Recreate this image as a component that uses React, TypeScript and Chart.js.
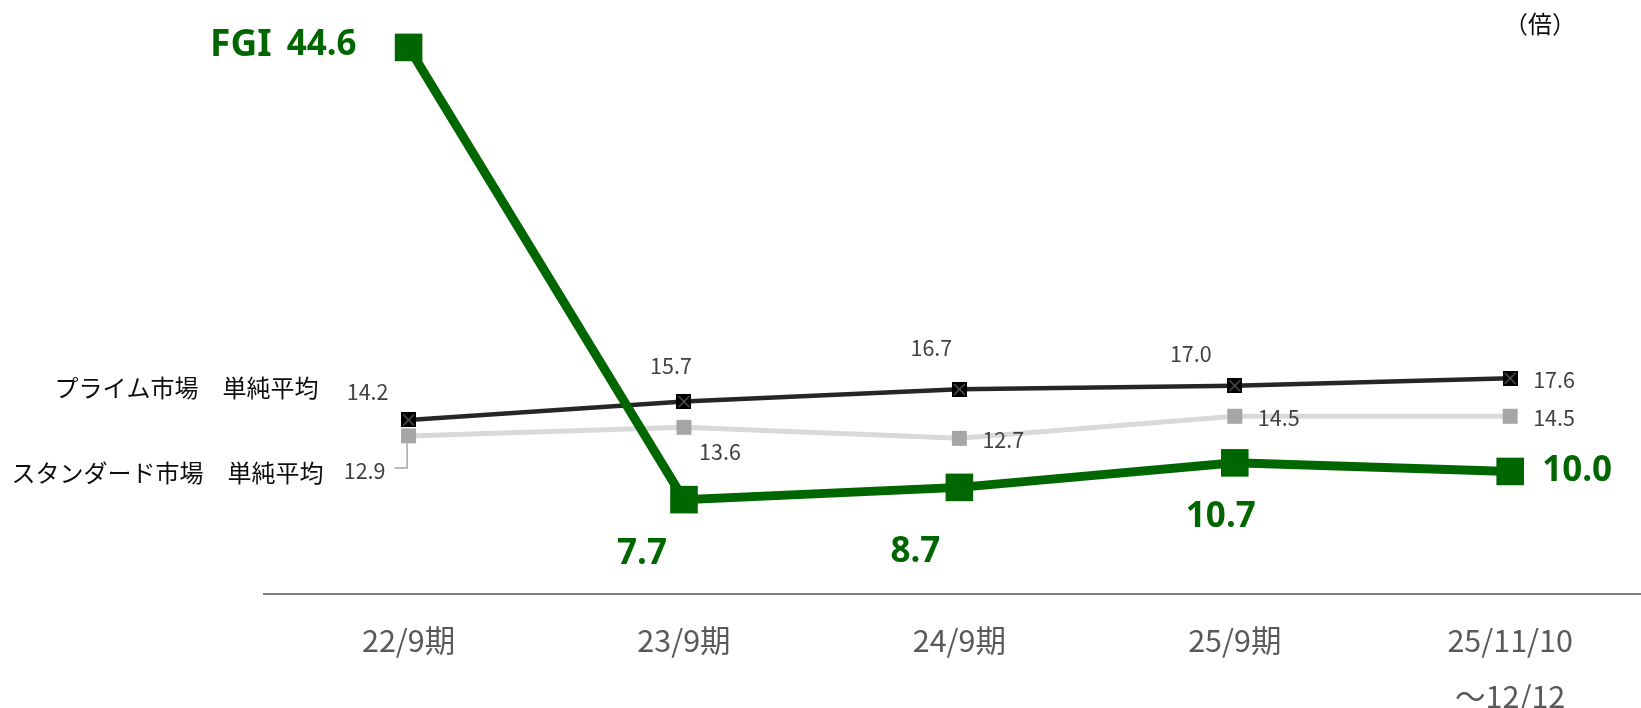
import { useEffect, useRef } from "react";
import { Chart, registerables } from "chart.js";

Chart.register(...registerables);

// Periods along the x axis (the last one spans two lines)
const categories: (string | string[])[] = ["22/9期", "23/9期", "24/9期", "25/9期", ["25/11/10", "～12/12"]];

// PER (倍) per period
const fgiValues = [44.6, 7.7, 8.7, 10.7, 10.0];
const primeValues = [14.2, 15.7, 16.7, 17.0, 17.6];
const standardValues = [12.9, 13.6, 12.7, 14.5, 14.5];

const fgiName = "FGI";
const primeName = "プライム市場　単純平均";
const standardName = "スタンダード市場　単純平均";
const unitLabel = "（倍）";

const GREEN = "#006600";
const DARK = "#262626";
const LIGHT = "#d9d9d9";
const MARKER_GRAY = "#a6a6a6";
const JP_FONT = '"Noto Sans CJK JP", "Noto Sans", sans-serif';

type Placement = { dx: number; dy: number; align: CanvasTextAlign };

// Where each value label sits relative to its point
const fgiPlacement: Placement[] = [
  { dx: -52, dy: -2, align: "right" },
  { dx: -42, dy: 54, align: "center" },
  { dx: -44, dy: 65, align: "center" },
  { dx: -14, dy: 54, align: "center" },
  { dx: 32, dy: 0, align: "left" },
];
const primePlacement: Placement[] = [
  { dx: -41, dy: -28, align: "center" },
  { dx: -13, dy: -36, align: "center" },
  { dx: -28, dy: -42, align: "center" },
  { dx: -44, dy: -32, align: "center" },
  { dx: 23, dy: 2, align: "left" },
];
const standardPlacement: Placement[] = [
  { dx: -44, dy: 35, align: "center" },
  { dx: 36, dy: 25, align: "center" },
  { dx: 23, dy: 1, align: "left" },
  { dx: 23, dy: 2, align: "left" },
  { dx: 23, dy: 2, align: "left" },
];

const toPoints = (values: number[]) => values.map((y, x) => ({ x, y }));

function makeCrossMarker(): HTMLCanvasElement {
  const size = 15;
  const c = document.createElement("canvas");
  c.width = size;
  c.height = size;
  const g = c.getContext("2d")!;
  g.fillStyle = "#000000";
  g.fillRect(0, 0, size, size);
  g.strokeStyle = "#5a5a5a";
  g.lineWidth = 1.3;
  g.beginPath();
  g.moveTo(2, 2);
  g.lineTo(size - 2, size - 2);
  g.moveTo(size - 2, 2);
  g.lineTo(2, size - 2);
  g.stroke();
  return c;
}

const labelPlugin = {
  id: "valueLabels",
  afterDatasetsDraw(chart: any) {
    const ctx: CanvasRenderingContext2D = chart.ctx;
    const area = chart.chartArea;
    const fgiMeta = chart.getDatasetMeta(0);
    const primeMeta = chart.getDatasetMeta(1);
    const stdMeta = chart.getDatasetMeta(2);

    ctx.save();
    ctx.textBaseline = "middle";

    // FGI values, with the series name in front of the first one
    ctx.fillStyle = GREEN;
    ctx.font = 'bold 35px "Noto Sans", sans-serif';
    fgiValues.forEach((v, i) => {
      const p = fgiMeta.data[i];
      const pl = fgiPlacement[i];
      ctx.textAlign = pl.align;
      ctx.fillText(v.toFixed(1), p.x + pl.dx, p.y + pl.dy);
    });
    const f0 = fgiMeta.data[0];
    ctx.textAlign = "right";
    ctx.font = 'bold 37px "Noto Sans", sans-serif';
    ctx.fillText(fgiName, f0.x - 137, f0.y - 2);

    // Market averages
    ctx.fillStyle = "#404040";
    ctx.font = `21.5px ${JP_FONT}`;
    primeValues.forEach((v, i) => {
      const p = primeMeta.data[i];
      const pl = primePlacement[i];
      ctx.textAlign = pl.align;
      ctx.fillText(v.toFixed(1), p.x + pl.dx, p.y + pl.dy);
    });
    standardValues.forEach((v, i) => {
      const p = stdMeta.data[i];
      const pl = standardPlacement[i];
      ctx.textAlign = pl.align;
      ctx.fillText(v.toFixed(1), p.x + pl.dx, p.y + pl.dy);
    });

    // Leader from the first standard label to its marker
    const s0 = stdMeta.data[0];
    ctx.strokeStyle = MARKER_GRAY;
    ctx.lineWidth = 1.5;
    ctx.beginPath();
    ctx.moveTo(s0.x - 14, s0.y + 32);
    ctx.lineTo(s0.x - 1.5, s0.y + 32);
    ctx.lineTo(s0.x - 1.5, s0.y + 7.5);
    ctx.stroke();

    // Series names beside the first points
    ctx.fillStyle = "#0d0d0d";
    ctx.font = `24px ${JP_FONT}`;
    ctx.textAlign = "right";
    const p0 = primeMeta.data[0];
    ctx.fillText(primeName, p0.x - 90, p0.y - 32);
    ctx.fillText(standardName, s0.x - 85, s0.y + 37);

    // Unit
    ctx.font = `24px ${JP_FONT}`;
    ctx.textAlign = "center";
    ctx.fillStyle = "#0d0d0d";
    ctx.fillText(unitLabel, area.right - 101, area.top - 19);

    ctx.restore();
  },
};

export default function App() {
  const canvasRef = useRef<HTMLCanvasElement | null>(null);

  useEffect(() => {
    if (!canvasRef.current) return;
    const crossMarker = makeCrossMarker();

    const chart = new Chart(canvasRef.current, {
      type: "line",
      data: {
        datasets: [
          {
            label: fgiName,
            data: toPoints(fgiValues),
            borderColor: GREEN,
            backgroundColor: GREEN,
            borderWidth: 9,
            pointStyle: "rect",
            pointRadius: 19.5,
            pointBorderWidth: 0,
            pointBackgroundColor: GREEN,
            tension: 0,
            clip: false,
          },
          {
            label: primeName,
            data: toPoints(primeValues),
            borderColor: DARK,
            backgroundColor: DARK,
            borderWidth: 4.5,
            pointStyle: crossMarker,
            pointRadius: 8,
            tension: 0,
            clip: false,
          },
          {
            label: standardName,
            data: toPoints(standardValues),
            borderColor: LIGHT,
            backgroundColor: MARKER_GRAY,
            borderWidth: 5,
            pointStyle: "rect",
            pointRadius: 10.6,
            pointBorderWidth: 0,
            pointBackgroundColor: MARKER_GRAY,
            tension: 0,
            clip: false,
          },
        ],
      },
      options: {
        responsive: false,
        animation: false,
        events: [],
        layout: { autoPadding: false, padding: { top: 42.5, left: 264, right: 0, bottom: 0 } },
        plugins: {
          legend: { display: false },
          tooltip: { enabled: false },
        },
        scales: {
          x: {
            type: "linear",
            min: -0.525,
            max: 4.475,
            afterBuildTicks: (axis: any) => {
              axis.ticks = categories.map((_, i) => ({ value: i }));
            },
            afterFit: (axis: any) => {
              axis.height = 114;
              axis.paddingLeft = 0;
              axis.paddingRight = 0;
            },
            grid: { display: true, color: "rgba(0,0,0,0)", drawTicks: false, tickLength: 0 },
            border: { display: true, color: "#808080", width: 2 },
            ticks: {
              autoSkip: false,
              maxRotation: 0,
              minRotation: 0,
              padding: 18,
              color: "#595959",
              font: { family: JP_FONT, size: 30.5, lineHeight: 1.84 },
              callback: (value: any) => categories[value as number] as any,
            },
          },
          y: {
            display: false,
            min: 0,
            max: 45,
          },
        },
      },
      plugins: [labelPlugin],
    } as any);

    return () => chart.destroy();
  }, []);

  return (
    <div style={{ position: "absolute", left: 0, top: 0, width: 1641, height: 708, background: "#ffffff" }}>
      <canvas ref={canvasRef} width={1641} height={708} style={{ display: "block" }} />
    </div>
  );
}
